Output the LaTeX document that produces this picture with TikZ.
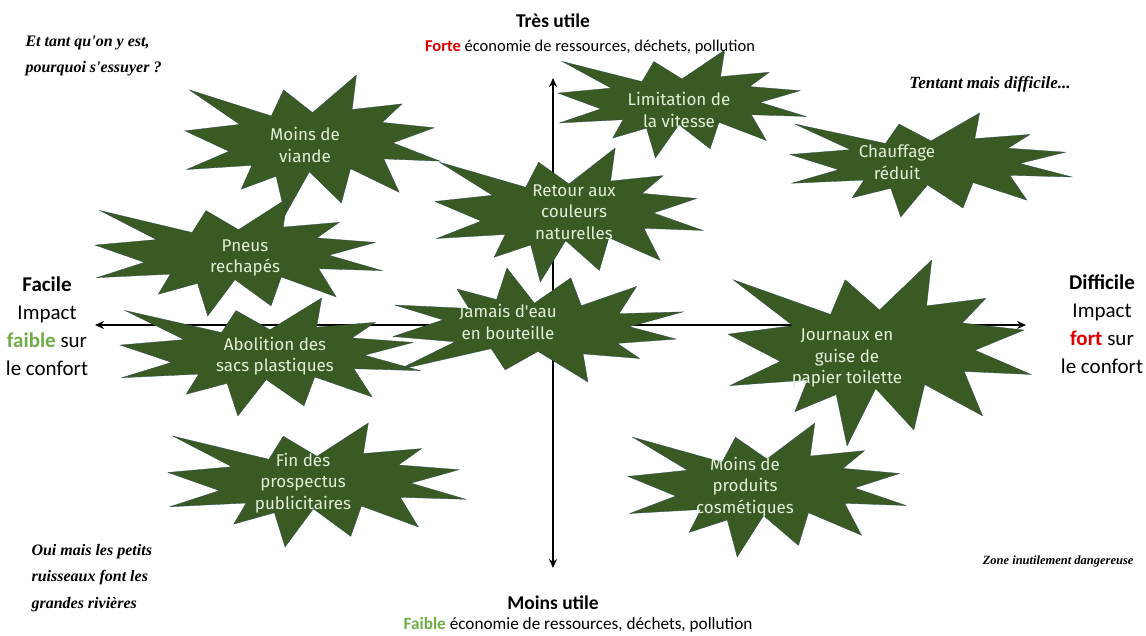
\documentclass[tikz,border=0pt]{standalone}
\usepackage{fontspec}
\setmainfont{Carlito}
\newfontfamily\burstfont{Fira Sans}
\newfontfamily\scriptf{Liberation Serif}
\usetikzlibrary{arrows.meta}
\definecolor{burstgreen}{HTML}{3A5A24}
\definecolor{bursttext}{HTML}{E2EFD9}
\definecolor{fgreen}{HTML}{70AD47}
\definecolor{fred}{HTML}{E00000}
\tikzset{
  bursttxt/.style={align=center, text=bursttext, font=\burstfont\fontsize{17}{21.5}\selectfont, inner sep=0pt},
  burstfill/.style={fill=burstgreen, draw=burstgreen!80!blue, line width=0.3pt},
  axis/.style={line width=1.6pt, -{Stealth[length=9pt,width=8pt]}},
  axlabel/.style={align=center, font=\fontsize{21}{28}\selectfont},
  vlabel/.style={align=center, font=\fontsize{16.5}{23.5}\selectfont},
  vtitle/.style={align=center, font=\bfseries\fontsize{19.5}{23.5}\selectfont},
  note/.style={font=\scriptf\itshape\bfseries\fontsize{16}{26.5}\selectfont, align=left}
}
% #1 left x, #2 top y, #3 width, #4 height, #5 xscale sign, #6 yscale sign
\newcommand\boom[6]{%
  \begin{scope}[shift={(#1+#3/2,#2+#4/2)}, xscale=#5*#3/216, yscale=#6*#4/216, shift={(-108,-108)}]
    \fill[burstfill] (108,58) -- (145.22,0) -- (141.55,53.25) -- (183.80,44.57) -- (167.02,73.15)
      -- (210.97,81.37) -- (176.07,104.75) -- (216,132.90) -- (168.37,129.42) -- (181.45,180.95)
      -- (140.20,144.57) -- (132.47,197.37) -- (105.32,149.35) -- (84.85,216) -- (77.15,156.27)
      -- (47.62,176.17) -- (56.67,139.37) -- (1.35,145.87) -- (37.22,117.75) -- (0,86.15)
      -- (46.27,76.17) -- (3.70,22.95) -- (73.12,63.20) -- (83.52,22.95) -- cycle;
  \end{scope}}
\begin{document}
\begin{tikzpicture}[x=1pt,y=-1pt]
\useasboundingbox (0,0) rectangle (1146,635);
% axes
\coordinate (c) at (553,325);
\coordinate (L) at (95,325);
\coordinate (R) at (1026,325);
\coordinate (T) at (553,78);
\coordinate (B) at (553,568);
\draw[axis] (c) -- (L);
\draw[axis] (c) -- (R);
\draw[axis] (c) -- (T);
\draw[axis] (c) -- (B);
% bursts
\boom{185}{75}{255}{140}{1}{1}
\node[bursttxt] (viande) at (305,145) {Moins de\\viande};
\boom{558}{50}{248}{108}{1}{1}
\node[bursttxt] (vitesse) at (679,110) {Limitation de\\la vitesse};
\boom{790}{113}{282}{104}{1}{1}
\node[bursttxt] (chauffage) at (897,162) {Chauffage\\réduit};
\boom{435}{148}{268}{134}{1}{1}
\node[bursttxt] (retour) at (574,212) {Retour aux\\couleurs\\naturelles};
\boom{95}{198}{287}{118}{1}{1}
\node[bursttxt] (pneus) at (245,258) {Pneus\\rechapés};
\boom{120}{298}{300}{118}{1}{1}
\node[bursttxt] (sacs) at (275,356) {Abolition des\\sacs plastiques};
\boom{393}{268}{290}{114}{1}{-1}
\node[bursttxt] (eau) at (508,322) {Jamais d'eau\\en bouteille};
\boom{728}{260}{303}{186}{1}{1}
\node[bursttxt] (journaux) at (847,358) {Journaux en\\guise de\\papier toilette};
\boom{168}{423}{298}{124}{1}{1}
\node[bursttxt] (prospectus) at (303,483) {Fin des\\prospectus\\publicitaires};
\boom{628}{423}{278}{134}{1}{1}
\node[bursttxt] (cosmetiques) at (745,487) {Moins de\\produits\\cosmétiques};
% axis labels
\node[vtitle] (top) at (553,21) {Très utile};
\node[vlabel] (topsub) at (590,47) {\textcolor{fred}{\textbf{Forte}} économie de ressources, déchets, pollution};
\node[vtitle] (bottom) at (553,603) {Moins utile};
\node[vlabel, font=\fontsize{17.2}{23.5}\selectfont] (bottomsub) at (578,625) {\textcolor{fgreen}{\textbf{Faible}} économie de ressources, déchets, pollution};
\node[axlabel] (left) at (47,326) {\textbf{Facile}\\Impact\\\textcolor{fgreen}{\textbf{faible}} sur\\le confort};
\node[axlabel] (right) at (1102,324) {\textbf{Difficile}\\Impact\\\textcolor{fred}{\textbf{fort}} sur\\le confort};
% notes
\node[note, anchor=west] (n1) at (22,56) {Et tant qu'on y est,\\pourquoi s'essuyer ?};
\node[note, anchor=center, font=\scriptf\itshape\bfseries\fontsize{17}{20}\selectfont] (n2) at (990,84) {Tentant mais difficile...};
\node[note, anchor=west] (n3) at (28,578) {Oui mais les petits\\ruisseaux font les\\grandes rivières};
\node[note, anchor=east, font=\scriptf\itshape\bfseries\fontsize{12.5}{16}\selectfont] (n4) at (1137,561) {Zone inutilement dangereuse};
\end{tikzpicture}
\end{document}
